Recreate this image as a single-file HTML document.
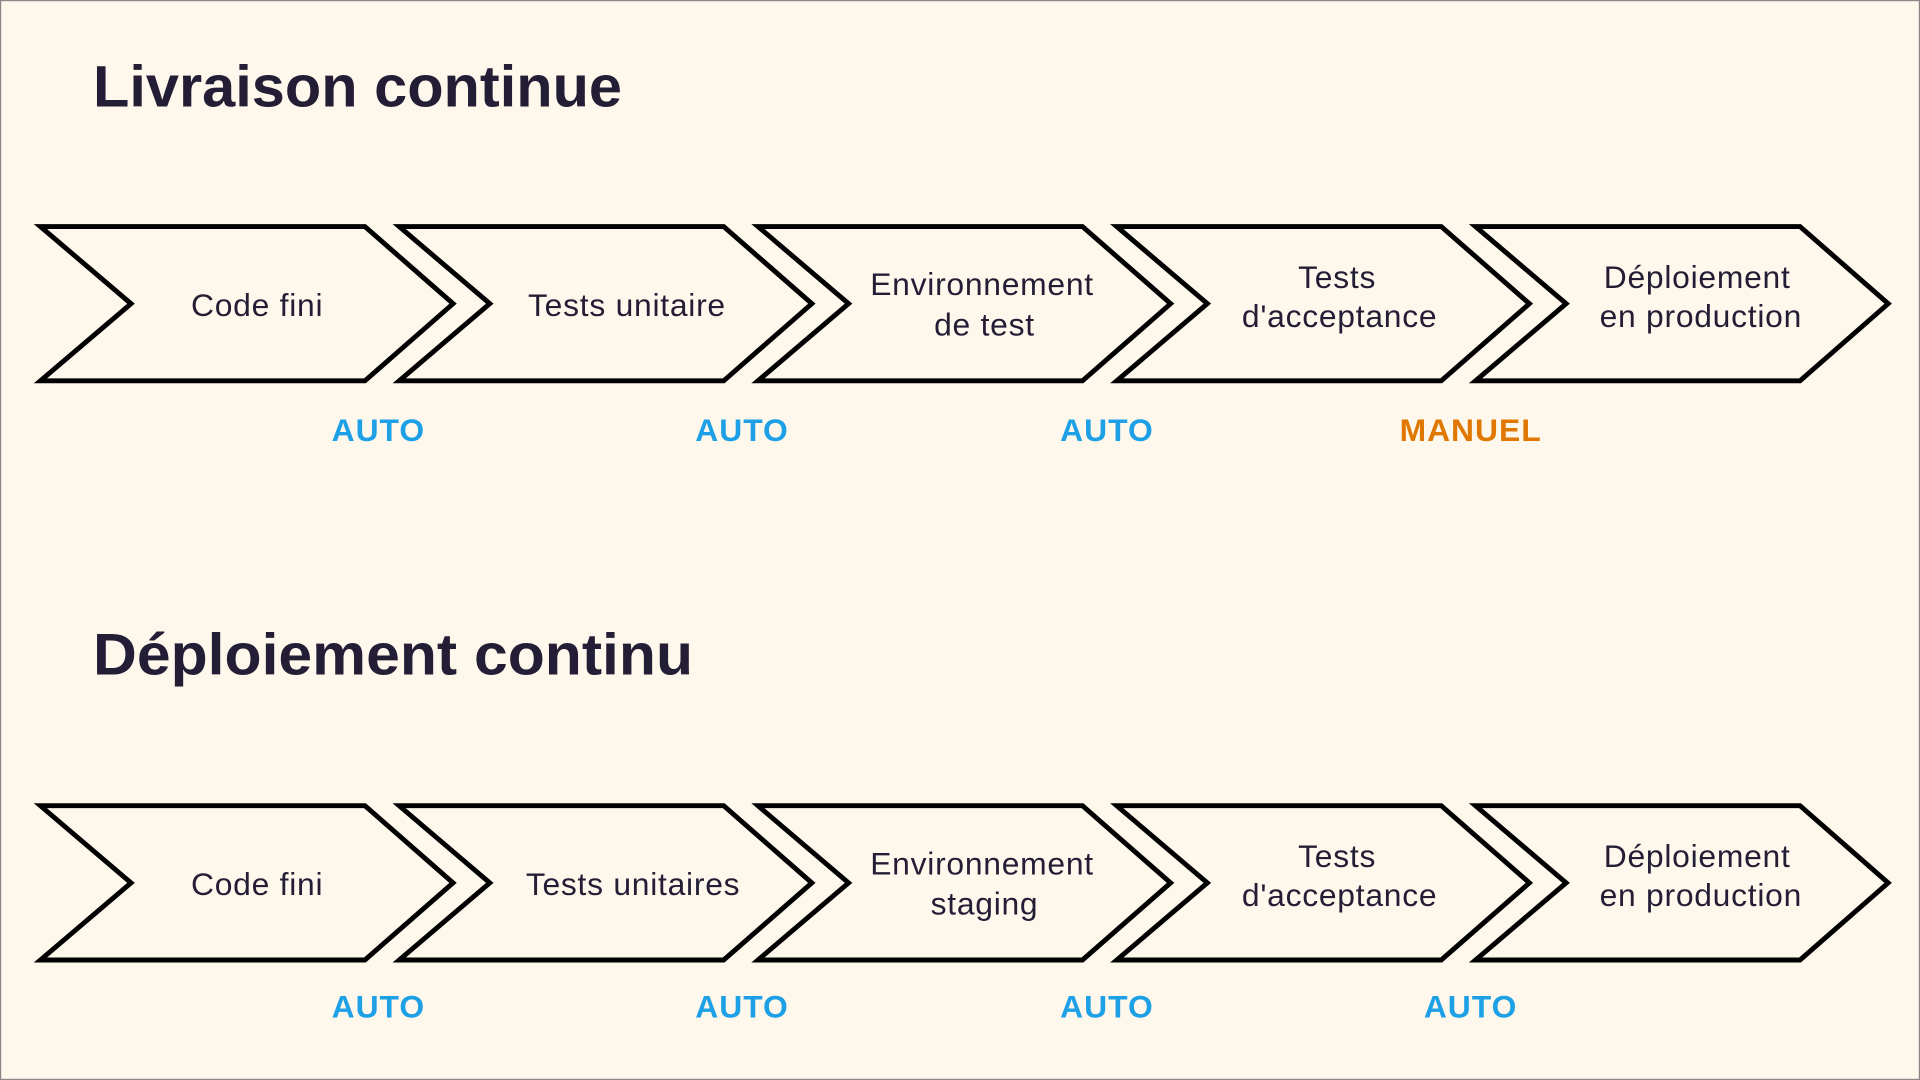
<!DOCTYPE html>
<html><head><meta charset="utf-8"><style>
html,body{margin:0;padding:0;background:#fef8ec;}
svg{display:block;}
</style></head><body>
<svg width="1920" height="1080" viewBox="0 0 1568 882" xmlns="http://www.w3.org/2000/svg">
<rect x="0.5" y="0.5" width="1567" height="881" fill="#fef8ec" stroke="#888" stroke-width="1"/>
<g font-family="Liberation Sans, sans-serif" fill="#231d35" font-weight="bold" font-size="48">
<text x="76" y="87" textLength="432" lengthAdjust="spacingAndGlyphs">Livraison continue</text>
<text x="76" y="551" textLength="490" lengthAdjust="spacingAndGlyphs">Déploiement continu</text>
</g>
<g fill="none" stroke="#000" stroke-width="4" stroke-linejoin="miter">
<path d="M33,185 H298 L370,248 L298,311 H33 L107,248 Z"/>
<path d="M326,185 H591 L663,248 L591,311 H326 L400,248 Z"/>
<path d="M619,185 H884 L956,248 L884,311 H619 L693,248 Z"/>
<path d="M912,185 H1177 L1249,248 L1177,311 H912 L986,248 Z"/>
<path d="M1205,185 H1470 L1542,248 L1470,311 H1205 L1279,248 Z"/>
<path d="M33,658 H298 L370,721 L298,784 H33 L107,721 Z"/>
<path d="M326,658 H591 L663,721 L591,784 H326 L400,721 Z"/>
<path d="M619,658 H884 L956,721 L884,784 H619 L693,721 Z"/>
<path d="M912,658 H1177 L1249,721 L1177,784 H912 L986,721 Z"/>
<path d="M1205,658 H1470 L1542,721 L1470,784 H1205 L1279,721 Z"/>
</g>
<g font-family="Liberation Sans, sans-serif" font-size="26" fill="#231d35" text-anchor="middle" letter-spacing="0.6">
<text x="210" y="258">Code fini</text>
<text x="512" y="258">Tests unitaire</text>
<text x="802" y="241">Environnement</text><text x="804" y="274">de test</text>
<text x="1092" y="235">Tests</text><text x="1094" y="267">d'acceptance</text>
<text x="1386" y="235">Déploiement</text><text x="1389" y="267">en production</text>
<text x="210" y="731">Code fini</text>
<text x="517" y="731">Tests unitaires</text>
<text x="802" y="714">Environnement</text><text x="804" y="747">staging</text>
<text x="1092" y="708">Tests</text><text x="1094" y="740">d'acceptance</text>
<text x="1386" y="708">Déploiement</text><text x="1389" y="740">en production</text>
</g>
<g font-family="Liberation Sans, sans-serif" font-size="26" font-weight="bold" fill="#1ea0e6" text-anchor="middle" letter-spacing="0.8">
<text x="309" y="360">AUTO</text><text x="606" y="360">AUTO</text><text x="904" y="360">AUTO</text>
<text x="1201" y="360" fill="#e07800">MANUEL</text>
<text x="309" y="831">AUTO</text><text x="606" y="831">AUTO</text><text x="904" y="831">AUTO</text><text x="1201" y="831">AUTO</text>
</g>
</svg>
</body></html>
